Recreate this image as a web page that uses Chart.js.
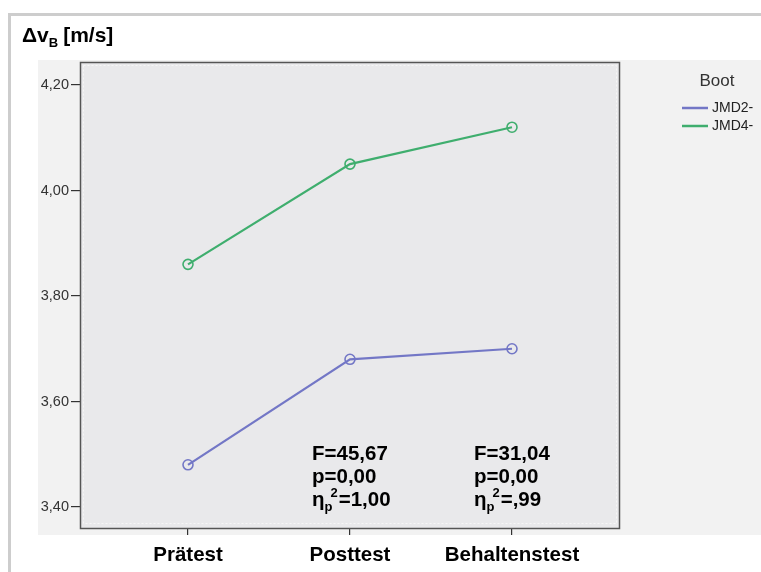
<!DOCTYPE html>
<html>
<head>
<meta charset="utf-8">
<script src="https://cdn.jsdelivr.net/npm/chart.js@4.4.1/dist/chart.umd.min.js"></script>
<style>
  html, body { margin: 0; padding: 0; background: #fff; }
  #wrap { width: 761px; height: 572px; position: relative; }
</style>
</head>
<body>
<div id="wrap"><canvas id="c" width="761" height="572"></canvas></div>
<script>
// --- DATA ---
const categories = ['Prätest', 'Posttest', 'Behaltenstest'];
const seriesNames = ['JMD2-', 'JMD4-'];
const jmd2 = [3.48, 3.68, 3.70];
const jmd4 = [3.86, 4.05, 4.12];
const yTicks = [3.40, 3.60, 3.80, 4.00, 4.20];
const seriesColors = ['#7377c6', '#3fae6e'];

// stats text under Posttest / Behaltenstest
const statCats = [1, 2];
const fVals = ['45,67', '31,04'];
const pVals = ['0,00', '0,00'];
const etaVals = ['1,00', ',99'];

const FONT = '"Liberation Sans", Arial, sans-serif';

// --- DECORATION PLUGIN ---
const spssFrame = {
    id: 'spssFrame',
    beforeDraw(chart) {
        const c = chart.ctx, a = chart.chartArea;
        c.save();
        c.fillStyle = '#fff';
        c.fillRect(0, 0, chart.width, chart.height);
        // outer frame
        c.fillStyle = '#cdcdcd';
        c.fillRect(8, 13, chart.width - 8, 3);
        c.fillRect(8, 13, 3, chart.height - 13);
        // grey panel
        c.fillStyle = '#f2f2f2';
        c.fillRect(38, 60, chart.width - 38, 475);
        // plot background
        c.fillStyle = '#e9e9eb';
        c.fillRect(a.left, a.top, a.right - a.left, a.bottom - a.top);
        // dotted inner border
        c.strokeStyle = '#f6f6f6';
        c.lineWidth = 1;
        c.setLineDash([2, 2]);
        c.strokeRect(a.left + 3.5, a.top + 3.5, a.right - a.left - 7, a.bottom - a.top - 9);
        c.setLineDash([]);
        // title
        c.fillStyle = '#000';
        c.font = 'bold 21px ' + FONT;
        c.textBaseline = 'alphabetic';
        c.textAlign = 'left';
        c.fillText('Δv', 22, 42);
        let w = c.measureText('Δv').width;
        c.font = 'bold 13px ' + FONT;
        c.fillText('B', 22 + w, 47);
        w += c.measureText('B').width + 5;
        c.font = 'bold 21px ' + FONT;
        c.fillText('[m/s]', 22 + w, 42);
        c.restore();
    },
    afterDraw(chart) {
        const c = chart.ctx, a = chart.chartArea;
        const xs = chart.scales.x;
        c.save();
        // plot frame
        c.strokeStyle = '#555';
        c.lineWidth = 1.5;
        c.strokeRect(a.left + 0.5, a.top + 0.5, a.right - a.left - 1, a.bottom - a.top - 1);

        // stats annotations
        c.fillStyle = '#000';
        c.textAlign = 'left';
        c.textBaseline = 'alphabetic';
        statCats.forEach((cat, i) => {
            const x = xs.getPixelForValue(cat) - 38;
            c.font = 'bold 20.5px ' + FONT;
            c.fillText('F=' + fVals[i], x, 460);
            c.fillText('p=' + pVals[i], x, 483);
            c.fillText('η', x, 506);
            let w = c.measureText('η').width;
            c.font = 'bold 13px ' + FONT;
            c.fillText('p', x + w, 511);
            c.fillText('2', x + w + 6, 497);
            w += c.measureText('p').width + c.measureText('2').width - 1;
            c.font = 'bold 20.5px ' + FONT;
            c.fillText('=' + etaVals[i], x + w, 506);
        });

        // legend
        c.fillStyle = '#333';
        c.font = '17px ' + FONT;
        c.textAlign = 'center';
        c.textBaseline = 'middle';
        c.fillText('Boot', 717, 81);
        c.font = '14px ' + FONT;
        c.textAlign = 'left';
        chart.data.datasets.forEach((ds, i) => {
            const y = 108 + i * 18;
            c.strokeStyle = ds.borderColor;
            c.lineWidth = 2.5;
            c.beginPath();
            c.moveTo(682, y);
            c.lineTo(708, y);
            c.stroke();
            c.fillStyle = '#222';
            c.fillText(ds.label, 712, y);
        });
        c.restore();
    }
};

const toPoints = arr => arr.map((v, i) => ({ x: i, y: v }));

new Chart(document.getElementById('c'), {
    type: 'line',
    data: {
        datasets: [
            { label: seriesNames[0], data: toPoints(jmd2), borderColor: seriesColors[0] },
            { label: seriesNames[1], data: toPoints(jmd4), borderColor: seriesColors[1] }
        ].map(d => Object.assign(d, {
            borderWidth: 2.2,
            pointRadius: 5,
            pointBorderWidth: 1.6,
            pointBackgroundColor: 'rgba(0,0,0,0)',
            pointBorderColor: d.borderColor,
            tension: 0
        }))
    },
    options: {
        responsive: false,
        animation: false,
        events: [],
        layout: { padding: { top: 62, right: 141, left: 0, bottom: 0 } },
        plugins: { legend: { display: false }, tooltip: { enabled: false } },
        scales: {
            x: {
                type: 'linear',
                min: -2 / 3,
                max: 8 / 3,
                afterBuildTicks: s => { s.ticks = categories.map((_, i) => ({ value: i })); },
                afterFit: s => { s.height = 43; },
                border: { display: false },
                grid: { drawOnChartArea: false, drawTicks: true, tickLength: 6, color: '#333', lineWidth: 1.2 },
                ticks: {
                    autoSkip: false,
                    maxRotation: 0,
                    padding: 8,
                    color: '#000',
                    font: { family: FONT, size: 20.5, weight: 'bold' },
                    callback: v => categories[v]
                }
            },
            y: {
                min: 3.3583,
                max: 4.2436,
                afterBuildTicks: s => { s.ticks = yTicks.map(v => ({ value: v })); },
                afterFit: s => { s.width = 80; },
                border: { display: false },
                grid: { drawOnChartArea: false, drawTicks: true, tickLength: 9, color: '#333', lineWidth: 1.2 },
                ticks: {
                    padding: 2,
                    color: '#333',
                    font: { family: FONT, size: 14.5 },
                    callback: v => v.toFixed(2).replace('.', ',')
                }
            }
        }
    },
    plugins: [spssFrame]
});
</script>
</body>
</html>
